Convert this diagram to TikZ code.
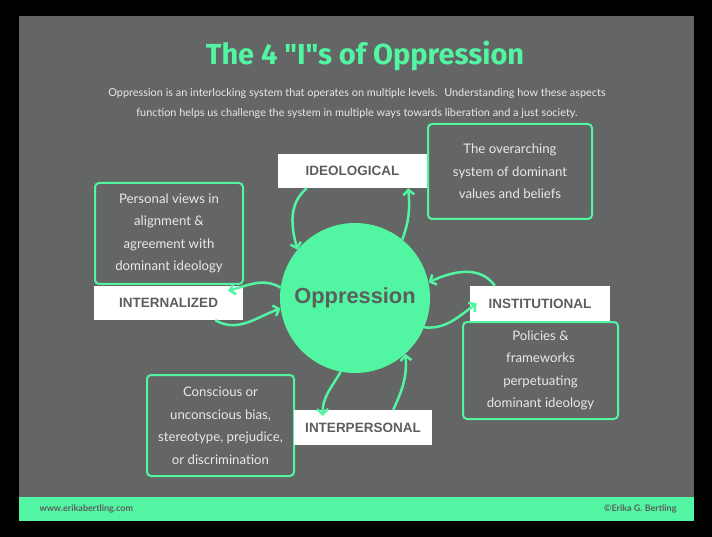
\documentclass[tikz,border=0pt]{standalone}
\usepackage{fontspec}
\setmainfont{Lato}
\newfontfamily\labelfont{Liberation Sans}
\newfontfamily\titlefont{Fira Sans}
\usepackage{tikz}
\usetikzlibrary{arrows.meta}
\definecolor{myGray}{RGB}{100,102,101}
\definecolor{myGreen}{RGB}{82,245,162}
\definecolor{myText}{RGB}{92,94,93}
\definecolor{myLight}{RGB}{232,232,232}

\begin{document}
\begin{tikzpicture}[
  x=1pt, y=-1pt,
  tag/.style={fill=white, inner sep=0pt, minimum height=34pt, text=myText,
              font=\labelfont\bfseries\fontsize{13.5}{16}\selectfont},
  note/.style={draw=myGreen, line width=2pt, rounded corners=4pt, inner sep=0pt,
               align=center, text=myLight, font=\fontsize{13.2}{22.5}\selectfont},
  link/.style={-{Straight Barb[length=5pt,width=11pt]}, line width=2.5pt, myGreen},
]
  \fill[black] (0,0) rectangle (712,537);
  \useasboundingbox (0,0) rectangle (712,537);
  \fill[myGray] (19,16) rectangle (694,497);
  \fill[myGreen] (19,497) rectangle (694,521);

  \node[text=myGreen, font=\titlefont\bfseries\fontsize{29}{32}\selectfont] (title) at (365,56)
    {The 4 \symbol{34}I\symbol{34}s of Oppression};
  \node[text=myLight, align=center, font=\fontsize{10.9}{20}\selectfont] (intro) at (357,103)
    {Oppression is an interlocking system that operates on multiple levels.~ Understanding how these aspects\\
     function helps us challenge the system in multiple ways towards liberation and a just society.};

  \node[circle, fill=myGreen, minimum size=150pt, inner sep=0pt, text=myText,
        font=\labelfont\bfseries\fontsize{21.8}{24}\selectfont] (opp) at (355,298) {Oppression};

  \node[tag, minimum width=149pt] (ideo) at (352.5,171) {IDEOLOGICAL};
  \node[note, minimum width=164pt, minimum height=95pt] (ideoTxt) at (510,171.5)
    {The overarching\\system of dominant\\values and beliefs};

  \node[note, minimum width=148pt, minimum height=101pt] (intlTxt) at (169,233.5)
    {Personal views in\\alignment \&\\agreement with\\dominant ideology};
  \node[tag, minimum width=149pt] (intl) at (168.5,303) {INTERNALIZED};

  \node[tag, minimum width=140pt, minimum height=35pt] (inst) at (540,303.5) {INSTITUTIONAL};
  \node[note, minimum width=155pt, minimum height=97pt] (instTxt) at (540.5,370.5)
    {Policies \&\\frameworks\\perpetuating\\dominant ideology};

  \node[note, minimum width=147pt, minimum height=101pt] (intpTxt) at (220.5,425.5)
    {Conscious or\\unconscious bias,\\stereotype, prejudice,\\or discrimination};
  \node[tag, minimum width=138pt, minimum height=35pt] (intp) at (363,427.5) {INTERPERSONAL};

  \node[anchor=west, text=myText, font=\bfseries\fontsize{9}{11}\selectfont] (web) at (36,508.5)
    {www.erikabertling.com};
  \node[anchor=east, text=myText, font=\bfseries\fontsize{9}{11}\selectfont] (copy) at (680,508.5)
    {\textcopyright Erika G. Bertling};

  \draw[link] ([xshift=29pt]ideo.south west) to[out=-140, in=105] (opp.140);
  \draw[link] (opp.51) to[out=70, in=-85] ([xshift=-19pt]ideo.south east);
  \draw[link] (opp.172) to[out=150, in=15] ([xshift=-15pt, yshift=-5pt]intl.north east);
  \draw[link] ([xshift=-28pt]intl.south east) to[out=-30, in=200] (opp.188);
  \draw[link] ([xshift=25pt]inst.north west) to[out=125, in=25] (opp.12);
  \draw[link] (opp.-23) to[out=-5, in=215] ([xshift=7pt]inst.west);
  \draw[link] (opp.-101) to[out=-120, in=92] ([xshift=29pt, yshift=-6pt]intp.north west);
  \draw[link] ([xshift=-39pt]intp.north east) to[out=65, in=-85] (opp.-48);
\end{tikzpicture}
\end{document}
